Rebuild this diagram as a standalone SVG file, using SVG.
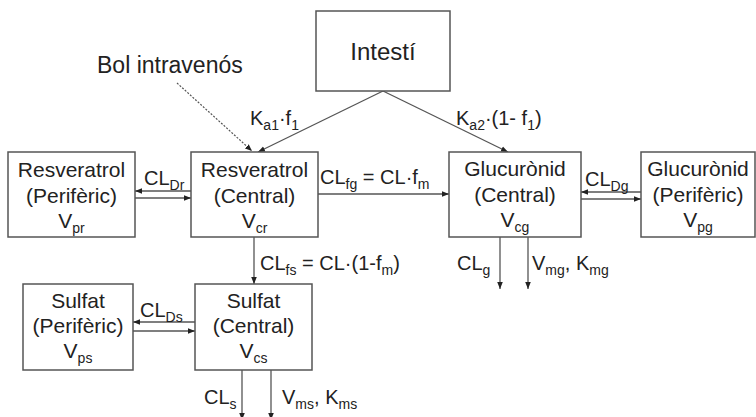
<svg xmlns="http://www.w3.org/2000/svg" width="756" height="417" viewBox="0 0 756 417">
<defs>
<marker id="ah" viewBox="0 0 10 10" refX="10" refY="5" markerWidth="7" markerHeight="7" markerUnits="userSpaceOnUse" orient="auto">
<path d="M0,1 L10,5 L0,9 z" fill="#222"/>
</marker>
</defs>
<style>
.box{fill:#fff;stroke:#555;stroke-width:1.5}
.t{font-family:"Liberation Sans",Arial,sans-serif;font-size:21px;fill:#222;text-anchor:middle}
.l{font-family:"Liberation Sans",Arial,sans-serif;font-size:20px;fill:#222}
.s{font-size:14px}
.c{fill:none;stroke:#555;stroke-width:1.3}
.d{fill:none;stroke:#555;stroke-width:1.2;stroke-dasharray:2 1.5}
</style>
<rect width="756" height="417" fill="#fff"/>
<g id="connectors">
<path class="c" d="M383,91 L258,152" marker-end="url(#ah)"/>
<path class="c" d="M383,91 L508,152" marker-end="url(#ah)"/>
<path class="d" d="M177,83 L252,151" marker-end="url(#ah)"/>
<path class="c" d="M191,191 L135,191" marker-end="url(#ah)"/>
<path class="c" d="M135,198 L191,198" marker-end="url(#ah)"/>
<path class="c" d="M318,194 L449,194" marker-end="url(#ah)"/>
<path class="c" d="M641,192 L581,192" marker-end="url(#ah)"/>
<path class="c" d="M581,199 L641,199" marker-end="url(#ah)"/>
<path class="c" d="M254,237 L254,284" marker-end="url(#ah)"/>
<path class="c" d="M500,237 L500,289" marker-end="url(#ah)"/>
<path class="c" d="M528,237 L528,289" marker-end="url(#ah)"/>
<path class="c" d="M195,322 L133,322" marker-end="url(#ah)"/>
<path class="c" d="M133,331 L195,331" marker-end="url(#ah)"/>
<path class="c" d="M242,370 L242,420" marker-end="url(#ah)"/>
<path class="c" d="M271,370 L271,420" marker-end="url(#ah)"/>
<text class="l" x="97" y="73" style="font-size:23px">Bol intravenós</text>
<text class="l" x="250" y="125">K<tspan class="s" dy="5">a1</tspan><tspan dy="-5">·f</tspan><tspan class="s" dy="5">1</tspan></text>
<text class="l" x="456" y="125">K<tspan class="s" dy="5">a2</tspan><tspan dy="-5">·(1- f</tspan><tspan class="s" dy="5">1</tspan><tspan dy="-5">)</tspan></text>
<text class="l" x="144" y="185">CL<tspan class="s" dy="5">Dr</tspan></text>
<text class="l" x="320" y="184">CL<tspan class="s" dy="5">fg</tspan><tspan dy="-5"> = CL·f</tspan><tspan class="s" dy="5">m</tspan></text>
<text class="l" x="585" y="186">CL<tspan class="s" dy="5">Dg</tspan></text>
<text class="l" x="260" y="270">CL<tspan class="s" dy="5">fs</tspan><tspan dy="-5"> = CL·(1-f</tspan><tspan class="s" dy="5">m</tspan><tspan dy="-5">)</tspan></text>
<text class="l" x="457" y="270">CL<tspan class="s" dy="5">g</tspan></text>
<text class="l" x="532" y="270">V<tspan class="s" dy="5">mg</tspan><tspan dy="-5">, K</tspan><tspan class="s" dy="5">mg</tspan></text>
<text class="l" x="140" y="317">CL<tspan class="s" dy="5">Ds</tspan></text>
<text class="l" x="204" y="404">CL<tspan class="s" dy="5">s</tspan></text>
<text class="l" x="282" y="404">V<tspan class="s" dy="5">ms</tspan><tspan dy="-5">, K</tspan><tspan class="s" dy="5">ms</tspan></text>
</g>
<g id="intesti">
<rect class="box" x="316" y="11" width="134" height="80"/>
<text class="t" x="383" y="60" style="font-size:24px">Intestí</text>
</g>
<g id="res-perif">
<rect class="box" x="8" y="152" width="127" height="85"/>
<text class="t" x="71.5" y="177">Resveratrol</text>
<text class="t" x="71.5" y="203">(Perifèric)</text>
<text class="t" x="71.5" y="228">V<tspan class="s" dy="5">pr</tspan></text>
</g>
<g id="res-central">
<rect class="box" x="191" y="152" width="127" height="85"/>
<text class="t" x="254.5" y="177">Resveratrol</text>
<text class="t" x="254.5" y="203">(Central)</text>
<text class="t" x="254.5" y="228">V<tspan class="s" dy="5">cr</tspan></text>
</g>
<g id="gluc-central">
<rect class="box" x="449" y="152" width="132" height="85"/>
<text class="t" x="515" y="176">Glucurònid</text>
<text class="t" x="515" y="202">(Central)</text>
<text class="t" x="515" y="227">V<tspan class="s" dy="5">cg</tspan></text>
</g>
<g id="gluc-perif">
<rect class="box" x="641" y="152" width="114" height="85"/>
<text class="t" x="698" y="176">Glucurònid</text>
<text class="t" x="698" y="202">(Perifèric)</text>
<text class="t" x="698" y="227">V<tspan class="s" dy="5">pg</tspan></text>
</g>
<g id="sulf-perif">
<rect class="box" x="23" y="284" width="110" height="86"/>
<text class="t" x="78" y="308">Sulfat</text>
<text class="t" x="78" y="333">(Perifèric)</text>
<text class="t" x="78" y="358">V<tspan class="s" dy="5">ps</tspan></text>
</g>
<g id="sulf-central">
<rect class="box" x="195" y="284" width="117" height="86"/>
<text class="t" x="253.5" y="308">Sulfat</text>
<text class="t" x="253.5" y="333">(Central)</text>
<text class="t" x="253.5" y="358">V<tspan class="s" dy="5">cs</tspan></text>
</g>
</svg>
